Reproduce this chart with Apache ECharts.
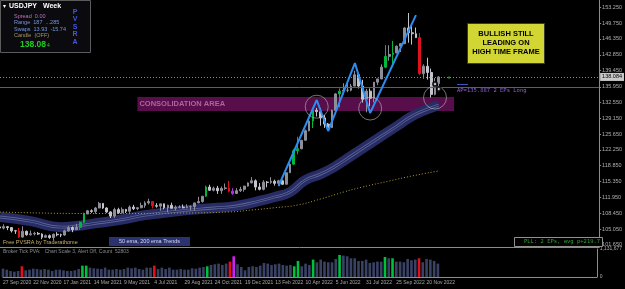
<!DOCTYPE html>
<html>
<head>
<meta charset="utf-8">
<script src="https://cdn.jsdelivr.net/npm/echarts@6/dist/echarts.min.js"></script>
<style>
html, body { margin: 0; padding: 0; background: #000; }
#chart { width: 625px; height: 289px; }
</style>
</head>
<body>
<div id="chart"></div>
<script>
// weekly USDJPY candles: [open, close, low, high]
var weekly = [
	[105.55, 105.30, 105.20, 105.80], [105.30, 105.60, 105.00, 106.11], [105.60, 105.40, 104.85, 105.75], [105.40, 104.70, 104.34, 105.50],
	[104.70, 104.65, 104.02, 104.90], [104.65, 103.35, 103.18, 105.35], [103.35, 104.60, 103.20, 105.68], [104.60, 103.85, 103.65, 104.75],
	[103.85, 104.05, 103.70, 104.75], [104.05, 104.15, 103.70, 104.50], [104.15, 104.00, 103.80, 104.45], [104.00, 103.30, 102.88, 104.15],
	[103.30, 103.65, 103.20, 103.90], [103.65, 103.25, 102.95, 103.90], [103.25, 103.95, 102.59, 104.10], [103.95, 103.85, 103.52, 104.40],
	[103.85, 103.78, 103.33, 104.08], [103.78, 104.70, 103.60, 104.94], [104.70, 105.40, 104.50, 105.76], [105.40, 104.95, 104.40, 105.65],
	[104.95, 105.45, 104.95, 106.22], [105.45, 106.55, 104.90, 106.69], [106.55, 108.35, 106.40, 108.64], [108.35, 109.05, 108.35, 109.23],
	[109.05, 108.90, 108.60, 109.36], [108.90, 109.65, 108.40, 109.85], [109.65, 110.65, 109.60, 110.97], [110.65, 109.65, 109.46, 110.70],
	[109.65, 108.80, 108.60, 109.80], [108.80, 107.90, 107.48, 108.92], [107.90, 109.30, 107.50, 109.70], [109.30, 108.60, 108.34, 109.70],
	[108.60, 109.35, 108.40, 109.79], [109.35, 108.95, 108.56, 109.45], [108.95, 109.85, 108.60, 110.20], [109.85, 109.50, 109.20, 110.33],
	[109.50, 109.70, 109.19, 109.80], [109.70, 110.20, 109.60, 110.82], [110.20, 110.75, 109.70, 111.12], [110.75, 111.05, 110.40, 111.66],
	[111.05, 110.15, 109.53, 111.10], [110.15, 110.05, 109.72, 110.70], [110.05, 110.55, 109.06, 110.60], [110.55, 109.70, 109.36, 110.60],
	[109.70, 110.25, 108.72, 110.37], [110.25, 109.60, 109.55, 110.80], [109.60, 109.80, 109.11, 110.20], [109.80, 109.85, 109.60, 110.25],
	[109.85, 109.70, 109.60, 110.42], [109.70, 109.90, 109.60, 110.45], [109.90, 109.95, 109.11, 110.20], [109.95, 110.75, 109.11, 110.80],
	[110.75, 111.05, 110.70, 112.08], [111.05, 112.20, 110.82, 112.25], [112.20, 114.20, 112.10, 114.47], [114.20, 113.50, 113.41, 114.70],
	[113.50, 113.95, 113.26, 114.30], [113.95, 113.40, 112.72, 114.44], [113.40, 113.90, 112.74, 114.30], [113.90, 114.00, 113.60, 114.97],
	[114.00, 113.30, 113.05, 115.52], [113.30, 112.80, 112.53, 113.95], [112.80, 113.40, 112.80, 113.95], [113.40, 113.70, 113.13, 114.25],
	[113.70, 114.40, 113.20, 114.45], [114.40, 115.10, 114.30, 115.20], [115.10, 115.55, 115.00, 116.35], [115.55, 114.20, 113.48, 115.85],
	[114.20, 113.70, 113.47, 115.06], [113.70, 115.25, 113.47, 115.68], [115.25, 115.20, 114.15, 115.50], [115.20, 115.45, 114.90, 116.34],
	[115.45, 115.00, 114.50, 115.80], [115.00, 115.55, 114.40, 115.76], [115.55, 114.80, 114.65, 115.80], [114.80, 117.30, 114.80, 117.35],
	[117.30, 119.15, 117.30, 119.41], [119.15, 122.05, 119.05, 122.43], [122.05, 122.50, 121.30, 125.10], [122.50, 124.35, 122.40, 124.35],
	[124.35, 126.40, 124.30, 126.68], [126.40, 128.50, 126.30, 129.40], [128.50, 130.85, 127.00, 131.25], [130.85, 130.55, 129.50, 131.35],
	[130.55, 129.20, 127.50, 131.35], [129.20, 127.85, 127.03, 129.80], [127.85, 127.10, 126.36, 128.10], [127.10, 130.85, 127.00, 130.98],
	[130.85, 134.40, 130.80, 134.56], [134.40, 135.00, 131.50, 135.60], [135.00, 135.20, 134.30, 136.71], [135.20, 135.20, 134.75, 137.00],
	[135.20, 136.10, 134.95, 136.58], [136.10, 138.55, 136.05, 139.39], [138.55, 136.10, 135.57, 138.85], [136.10, 133.25, 132.51, 137.45],
	[133.25, 135.00, 130.40, 135.50], [135.00, 133.45, 131.73, 135.58], [133.45, 136.95, 132.56, 137.00], [136.95, 137.65, 136.30, 137.70],
	[137.65, 140.20, 137.60, 140.80], [140.20, 142.55, 140.00, 144.99], [142.55, 142.95, 141.60, 144.96], [142.95, 143.30, 140.35, 145.90],
	[143.30, 144.75, 143.20, 144.90], [144.75, 145.30, 143.50, 145.40], [145.30, 148.70, 145.20, 148.86], [148.70, 147.65, 145.50, 151.94],
	[147.65, 147.45, 145.10, 149.10], [147.45, 146.60, 146.55, 148.80], [146.60, 138.80, 138.47, 147.60], [138.80, 140.40, 137.67, 140.80],
	[140.40, 139.05, 137.50, 142.25], [139.05, 134.30, 133.62, 139.90], [134.30, 136.65, 134.10, 137.86], [136.65, 138.08, 134.85, 138.18]
];

// PVSRA coloured weeks
var greenBars = [21, 22, 54, 77, 78, 82, 89, 101, 103];
var redBars = [5, 40, 60, 110];
var magentaBars = [61];

var volumes = [
	337500, 297100, 243200, 216400, 243000, 432600, 270300, 297000, 337800, 324100,
	297400, 324000, 297200, 243500, 297000, 297300, 270100, 243400, 243000, 270600,
	324200, 459300, 459100, 378400, 351200, 337600, 324500, 378100, 297500, 297000,
	324300, 297100, 324600, 378200, 351000, 378500, 324000, 297700, 378300, 378000,
	459600, 324400, 378700, 324100, 378600, 297200, 297900, 324800, 297300, 297600,
	351500, 337200, 378900, 405300, 432100, 486200, 513400, 540600, 486000, 540100,
	621500, 837200, 513900, 405700, 270800, 405200, 432800, 405000, 459500, 567300,
	540800, 486700, 513100, 540200, 486400, 459800, 486900, 432400, 648600, 432000,
	540500, 486300, 702400, 594200, 702900, 621300, 594800, 594000, 729100, 891600,
	864200, 837700, 756300, 756900, 648200, 648900, 702100, 567800, 594500, 621900,
	621100, 810400, 756100, 756600, 621700, 621400, 594300, 729800, 675200, 702600,
	756800, 594700, 729500, 702300, 648400, 540900
];

// 50 ema band and 200 ema: [week, price]
var ema50 = [[0, 107.7], [8, 106.8], [16, 105.5], [20, 105.75], [24, 106.2], [32, 107.15], [38, 108.1], [48, 109.1],
	[56, 109.65], [62, 110.1], [68, 111.17], [72, 112.04], [76, 113.1], [80, 115.7], [84, 117.0], [88, 118.76],
	[92, 120.93], [96, 123.1], [100, 125.27], [104, 127.4], [108, 129.6], [112, 131.1], [115, 132.0]];
var ema200 = [[0, 108.78], [24, 108.45], [48, 108.56], [60, 108.78], [66, 109.22], [72, 109.71], [78, 110.3],
	[84, 111.6], [90, 113.1], [95, 114.2], [102, 115.5], [108, 116.6], [115, 117.7]];

// hand drawn swing lines and circles
var swing = [[73, 114.42], [83, 133.08], [86, 126.35], [93, 141.1], [97, 130.25], [109, 151.5]];
var circles = [[83, 131.62], [97, 131.23], [114, 133.62]];
var entries = [[114, 136.55], [115, 135.45]];

var priceTicks = [153.25, 149.75, 146.35, 142.85, 139.45, 135.95, 132.55, 129.15, 125.65, 122.25, 118.85, 115.35, 111.95, 108.45, 105.05, 101.65];
var volTicks = [0, 1131677];
var lastPrice = 138.084;
var avgPrice = 135.887;
var consolidation = [130.69, 133.73];
var consolidationWeeks = [36, 119];
var dateLabels = ['27 Sep 2020', '22 Nov 2020', '17 Jan 2021', '14 Mar 2021', '9 May 2021', '4 Jul 2021', '29 Aug 2021',
	'24 Oct 2021', '19 Dec 2021', '13 Feb 2022', '10 Apr 2022', '5 Jun 2022', '31 Jul 2022', '25 Sep 2022', '20 Nov 2022'];
var slots = 158;

var weeks = [];
for (var i = 0; i < slots; i++) weeks.push(String(i));

function pvsraColor(i, green, red, magenta) {
	if (greenBars.indexOf(i) >= 0) return green;
	if (redBars.indexOf(i) >= 0) return red;
	if (magentaBars.indexOf(i) >= 0) return magenta;
	return null;
}

var candleData = weekly.map(function (row, i) {
	var c = pvsraColor(i, '#00b83c', '#e0101c', '#b830e0');
	if (!c) return row;
	return { value: row, itemStyle: { color: c, color0: c, borderColor: c, borderColor0: c } };
});
var volData = volumes.map(function (v, i) {
	return { value: v, itemStyle: { color: pvsraColor(i, '#00c040', '#e01020', '#d020f0') || '#3a4264' } };
});

var small = '"Liberation Sans", Arial, sans-serif';
var mono = '"DejaVu Sans Mono", monospace';

function txt(x, y, text, fill, font, align) {
	return { type: 'text', x: x, y: y, z: 100, style: { text: text, fill: fill, font: font, align: align || 'left', verticalAlign: 'middle' } };
}

var myChart = echarts.init(document.getElementById('chart'));
myChart.setOption({
	backgroundColor: '#000000',
	animation: false,
	textStyle: { fontFamily: small },
	grid: [
		{ left: 0, right: 22, top: 0, height: 247 },
		{ left: 0, right: 22, top: 249, height: 28 }
	],
	xAxis: [ {
		type: 'category', gridIndex: 0, data: weeks, boundaryGap: false,
		axisLine: { lineStyle: { color: '#8c8c8c' } }, axisTick: { show: false }, axisLabel: { show: false }, splitLine: { show: false }
	}, {
		type: 'category', gridIndex: 1, data: weeks, boundaryGap: false,
		axisLine: { lineStyle: { color: '#8c8c8c' } }, axisTick: { show: false }, splitLine: { show: false },
		axisLabel: {
			color: '#a8a8a8', fontSize: 5, align: 'left', margin: 3,
			interval: function (index) { return index % 8 === 0 && index / 8 < dateLabels.length; },
			formatter: function (v, index) { return dateLabels[index / 8] || ''; }
		}
	} ],
	yAxis: [ {
		type: 'value', gridIndex: 0, position: 'right', min: 101.19, max: 154.77, scale: true,
		axisLine: { show: true, lineStyle: { color: '#8c8c8c' } },
		axisTick: { show: true, length: 2, customValues: priceTicks, lineStyle: { color: '#8c8c8c' } },
		axisLabel: { color: '#b0b0b0', fontSize: 5.5, margin: 3, customValues: priceTicks, formatter: function (v) { return v.toFixed(3); } },
		splitLine: { show: false }
	}, {
		type: 'value', gridIndex: 1, position: 'right', min: 0, max: 1131677,
		axisLine: { show: true, lineStyle: { color: '#8c8c8c' } },
		axisTick: { show: false },
		axisLabel: { color: '#b0b0b0', fontSize: 5, margin: 3, customValues: volTicks },
		splitLine: { show: false }
	} ],
	series: [ {
		name: 'ema50 band', type: 'line', data: ema50, smooth: true, symbol: 'none', z: 1,
		lineStyle: { color: '#272c64', width: 10 }
	}, {
		name: 'ema50 inner', type: 'line', data: ema50, smooth: true, symbol: 'none', z: 1,
		lineStyle: { color: '#5c6496', width: 2.8 }
	}, {
		name: 'ema50 core', type: 'line', data: ema50, smooth: true, symbol: 'none', z: 1,
		lineStyle: { color: '#272c64', width: 1.1 }
	}, {
		name: 'ema200', type: 'line', data: ema200, smooth: true, symbol: 'none', z: 2,
		lineStyle: { color: '#b09a38', width: 1, type: [1, 2] },
		markArea: {
			silent: true,
			itemStyle: { color: 'rgba(140, 22, 120, 0.62)' },
			label: { show: true, position: 'insideLeft', distance: 2, color: '#b0649c', fontSize: 7.5, fontWeight: 'bold' },
			data: [ [ { name: 'CONSOLIDATION AREA', xAxis: consolidationWeeks[0], yAxis: consolidation[1] },
				{ xAxis: consolidationWeeks[1], yAxis: consolidation[0] } ] ]
		}
	}, {
		name: 'USDJPY', type: 'candlestick', data: candleData, barWidth: 2.3, z: 3,
		itemStyle: { color: '#8e8e98', color0: '#c4c4cc', borderColor: '#8e8e98', borderColor0: '#c4c4cc', borderWidth: 1 },
		markLine: {
			silent: true, symbol: 'none',
			data: [ {
				yAxis: lastPrice,
				lineStyle: { color: '#8a8a8a', type: [1, 2], width: 1 },
				label: { show: true, position: 'end', distance: 1, formatter: lastPrice.toFixed(3), color: '#000', fontSize: 5.5, backgroundColor: '#c8c8c8', padding: [1, 2] }
			}, {
				yAxis: avgPrice,
				lineStyle: { color: '#8a3c9c', type: 'solid', width: 1 },
				label: { show: false }
			} ]
		}
	}, {
		name: 'swing', type: 'line', data: swing, symbol: 'none', z: 5,
		lineStyle: { color: '#2c8cf0', width: 2 }
	}, {
		name: 'circles', type: 'scatter', data: circles, symbol: 'circle', symbolSize: 23, z: 6,
		itemStyle: { color: 'rgba(0,0,0,0)', borderColor: '#b4b4b4', borderWidth: 0.8 }
	}, {
		name: 'entries', type: 'scatter', data: entries, symbol: 'emptyCircle', symbolSize: 4, z: 6,
		itemStyle: { color: '#000', borderColor: '#30b8e8', borderWidth: 1.2 }
	}, {
		name: 'volume', type: 'bar', xAxisIndex: 1, yAxisIndex: 1, data: volData, barWidth: 2.6
	} ],
	graphic: [
		{ type: 'rect', z: 99, shape: { x: 0.5, y: 0.5, width: 90, height: 52 }, style: { fill: '#0b0b0f', stroke: '#5c5c5c', lineWidth: 1 } },
		txt(3, 6, '\u25be', '#ffffff', '6px ' + small),
		txt(9, 6, 'USDJPY', '#ffffff', 'bold 7px ' + small),
		txt(43, 6, 'Week', '#ffffff', 'bold 7px ' + small),
		txt(14, 16, 'Spread  0.00', '#c070c0', '5.5px ' + small),
		txt(14, 22.5, 'Range  187  ...285', '#7a96e0', '5.5px ' + small),
		txt(14, 29, 'Swaps  13.93  -15.74', '#7a96e0', '5.5px ' + small),
		txt(14, 35.5, 'Candle  (OFF)', '#a89860', '5.5px ' + small),
		txt(20, 45, '138.08', '#22cc22', 'bold 8.5px ' + small),
		txt(47, 46, '4', '#22cc22', '5px ' + small),
		txt(75, 12, 'P', '#4656e0', 'bold 7px ' + small, 'center'),
		txt(75, 19.5, 'V', '#4656e0', 'bold 7px ' + small, 'center'),
		txt(75, 27, 'S', '#4656e0', 'bold 7px ' + small, 'center'),
		txt(75, 34.5, 'R', '#4656e0', 'bold 7px ' + small, 'center'),
		txt(75, 42, 'A', '#4656e0', 'bold 7px ' + small, 'center'),

		{ type: 'rect', z: 99, shape: { x: 467.5, y: 23.5, width: 77, height: 40 }, style: { fill: '#d2d634', stroke: '#3a3a3a', lineWidth: 1 } },
		txt(506, 34, 'BULLISH STILL', '#000000', 'bold 7.5px ' + small, 'center'),
		txt(506, 43, 'LEADING ON', '#000000', 'bold 7.5px ' + small, 'center'),
		txt(506, 52, 'HIGH TIME FRAME', '#000000', 'bold 7.5px ' + small, 'center'),

		{ type: 'line', z: 99, shape: { x1: 457, y1: 84.5, x2: 468, y2: 84.5 }, style: { stroke: '#3a5ab8', lineWidth: 1 } },
		txt(457, 91, 'AP=135.887 2 EPs Long', '#8c64d0', '5.5px ' + mono),
		txt(449, 77, '+', '#30d030', 'bold 6px ' + small, 'center'),

		txt(3, 242, 'Free PVSRA by Traderathome', '#c8b070', '5.5px ' + small),
		{ type: 'rect', z: 99, shape: { x: 109, y: 237, width: 81, height: 9 }, style: { fill: '#2a3270' } },
		txt(149.5, 241.5, '50 ema, 200 ema Trends', '#d8d8f0', '5.5px ' + small, 'center'),
		{ type: 'rect', z: 99, shape: { x: 514.5, y: 237.5, width: 88, height: 9 }, style: { fill: '#000', stroke: '#909090', lineWidth: 1 } },
		txt(524, 242, 'PLL: 2 EPs, avg p+219.7', '#30a030', '5.5px ' + mono),
		txt(3, 252, 'Broker Tick PVA:   Chart Scale 3, Alert Off, Count  52803', '#8a8a8a', '5px ' + small)
	]
});
</script>
</body>
</html>
